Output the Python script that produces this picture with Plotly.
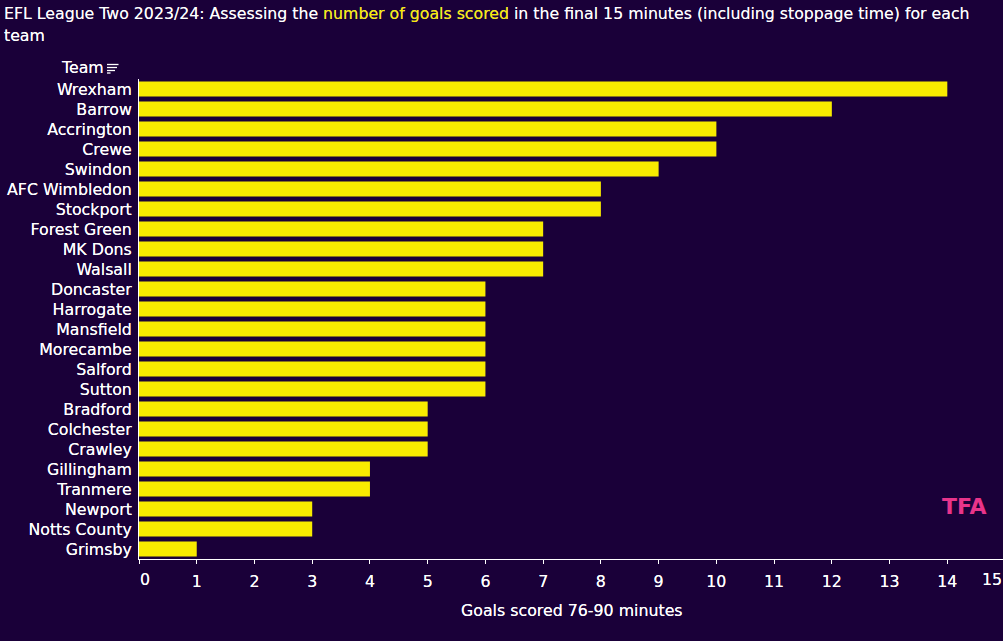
import plotly.graph_objects as go

teams = ["Wrexham", "Barrow", "Accrington", "Crewe", "Swindon", "AFC Wimbledon", "Stockport",
         "Forest Green", "MK Dons", "Walsall", "Doncaster", "Harrogate", "Mansfield", "Morecambe",
         "Salford", "Sutton", "Bradford", "Colchester", "Crawley", "Gillingham", "Tranmere",
         "Newport", "Notts County", "Grimsby"]
goals = [14, 12, 10, 10, 9, 8, 8, 7, 7, 7, 6, 6, 6, 6, 6, 6, 5, 5, 5, 4, 4, 3, 3, 1]
inner_ticks = list(range(0, 15))
inner_tick_labels = [""] + [str(t) for t in range(1, 15)]

BG = "#1a0039"
YEL = "#f8eb00"
FONT = "DejaVu Sans"
W, H = 1003, 641
L, R, T, B = 138.5, 0, 79, 82
PW, PH = W - L - R, H - T - B
xmax = PW / 57.77
LAB = 15.8
SHADOW = "0 0 0.6px rgba(255,255,255,0.9)"

fig = go.Figure(go.Bar(x=goals, y=teams, orientation="h", marker=dict(color=YEL, line_width=0),
                       width=0.75, hoverinfo="x+y"))

def px(x):
    return (x - L) / PW
def py(y):
    return (H - B - y) / PH

lab_font = dict(size=LAB, color="white", family=FONT, shadow=SHADOW)
anns = [
    dict(text=f'EFL League Two 2023/24: Assessing the <span style="color:{YEL}">number of goals scored</span> '
              'in the final 15 minutes (including stoppage time) for each',
         x=px(3), y=py(14), xanchor="left", yanchor="middle", align="left",
         font=dict(size=15.75, color="white", family=FONT, shadow="0 0 0.6px rgba(255,255,255,0.7)")),
    dict(text="team", x=px(3), y=py(36), xanchor="left", yanchor="middle", align="left",
         font=dict(size=15.75, color="white", family=FONT, shadow=SHADOW)),
    dict(text="Team", x=px(103), y=py(68), xanchor="right", yanchor="middle", font=lab_font),
    dict(text="Goals scored 76-90 minutes", x=px(571.5), y=py(610), xanchor="center", yanchor="middle", font=lab_font),
    dict(text="0", x=px(145), y=py(579), xanchor="center", yanchor="middle", font=lab_font),
    dict(text="15", x=px(992), y=py(579), xanchor="center", yanchor="middle", font=lab_font),
    dict(text="<b>TFA</b>", x=px(964.5), y=py(506), xanchor="center", yanchor="middle",
         font=dict(size=22, color="#e8348a", family=FONT)),
]
for a in anns:
    a.update(xref="paper", yref="paper", showarrow=False, borderpad=0, borderwidth=0)

icon = []
for yy, x1 in [(64.5, 118), (67.5, 116.5), (70.5, 114.5), (73, 110)]:
    icon.append(dict(type="line", xref="paper", yref="paper", x0=px(106.5), x1=px(x1), y0=py(yy), y1=py(yy),
                     line=dict(color="white", width=1.3)))

fig.update_layout(
    width=W, height=H, autosize=False,
    margin=dict(l=L, r=R, t=T, b=B, pad=0),
    paper_bgcolor=BG, plot_bgcolor=BG,
    showlegend=False, annotations=anns, shapes=icon,
    font=dict(family=FONT, color="white", size=LAB),
    xaxis=dict(range=[0, xmax], tickmode="array", tickvals=inner_ticks, ticktext=inner_tick_labels,
               ticks="outside", ticklen=4, tickcolor="white", tickwidth=1, ticklabelstandoff=4,
               showgrid=False, zeroline=False, showline=True, linecolor="white", linewidth=1,
               tickfont=lab_font),
    yaxis=dict(autorange="reversed", showgrid=False, zeroline=False, showline=True,
               linecolor="white", linewidth=1, ticks="", ticklabelstandoff=3,
               tickfont=lab_font),
)
fig.write_html("out.html", config=dict(displayModeBar=False),
               post_script="document.body.style.margin='0';document.documentElement.style.background='" + BG + "';")
